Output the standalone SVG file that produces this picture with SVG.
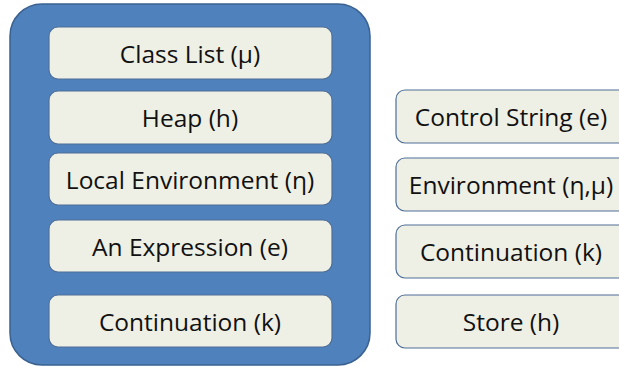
<svg xmlns="http://www.w3.org/2000/svg" width="619" height="367" viewBox="0 0 619 367">
<style>
.outer{fill:#4F81BD;stroke:#3A6190;stroke-width:1.5}
.box{fill:#EEEFE5;stroke:#4F6F98;stroke-width:1.2}
.t{font-family:"Open Sans","Liberation Sans",sans-serif;font-size:24.5px;fill:#111;text-anchor:middle;dominant-baseline:central}
</style>
<rect width="619" height="367" fill="#fff"/>
<g id="container">
<rect class="outer" x="10" y="4" width="360" height="361" rx="32" ry="32"/>
</g>
<g id="classlist"><rect class="box" x="49" y="27" width="283" height="52" rx="9"/><text class="t" x="190" y="53">Class List (μ)</text></g>
<g id="heap"><rect class="box" x="49" y="91" width="283" height="53" rx="9"/><text class="t" x="190" y="117.5">Heap (h)</text></g>
<g id="localenv"><rect class="box" x="49" y="153" width="283" height="52" rx="9"/><text class="t" x="190" y="179">Local Environment (η)</text></g>
<g id="expr"><rect class="box" x="49" y="220" width="283" height="52" rx="9"/><text class="t" x="190" y="246">An Expression (e)</text></g>
<g id="cont1"><rect class="box" x="49" y="295" width="283" height="52" rx="9"/><text class="t" x="190" y="321">Continuation (k)</text></g>
<g id="control"><rect class="box" x="396" y="90" width="240" height="53" rx="9"/><text class="t" x="511" y="116.5">Control String (e)</text></g>
<g id="env"><rect class="box" x="396" y="158" width="240" height="53" rx="9"/><text class="t" x="511" y="184.5">Environment (η,μ)</text></g>
<g id="cont2"><rect class="box" x="396" y="225" width="240" height="53" rx="9"/><text class="t" x="511" y="251.5">Continuation (k)</text></g>
<g id="store"><rect class="box" x="396" y="295" width="240" height="53" rx="9"/><text class="t" x="511" y="321.5">Store (h)</text></g>
<g id="connectors"></g>
</svg>
